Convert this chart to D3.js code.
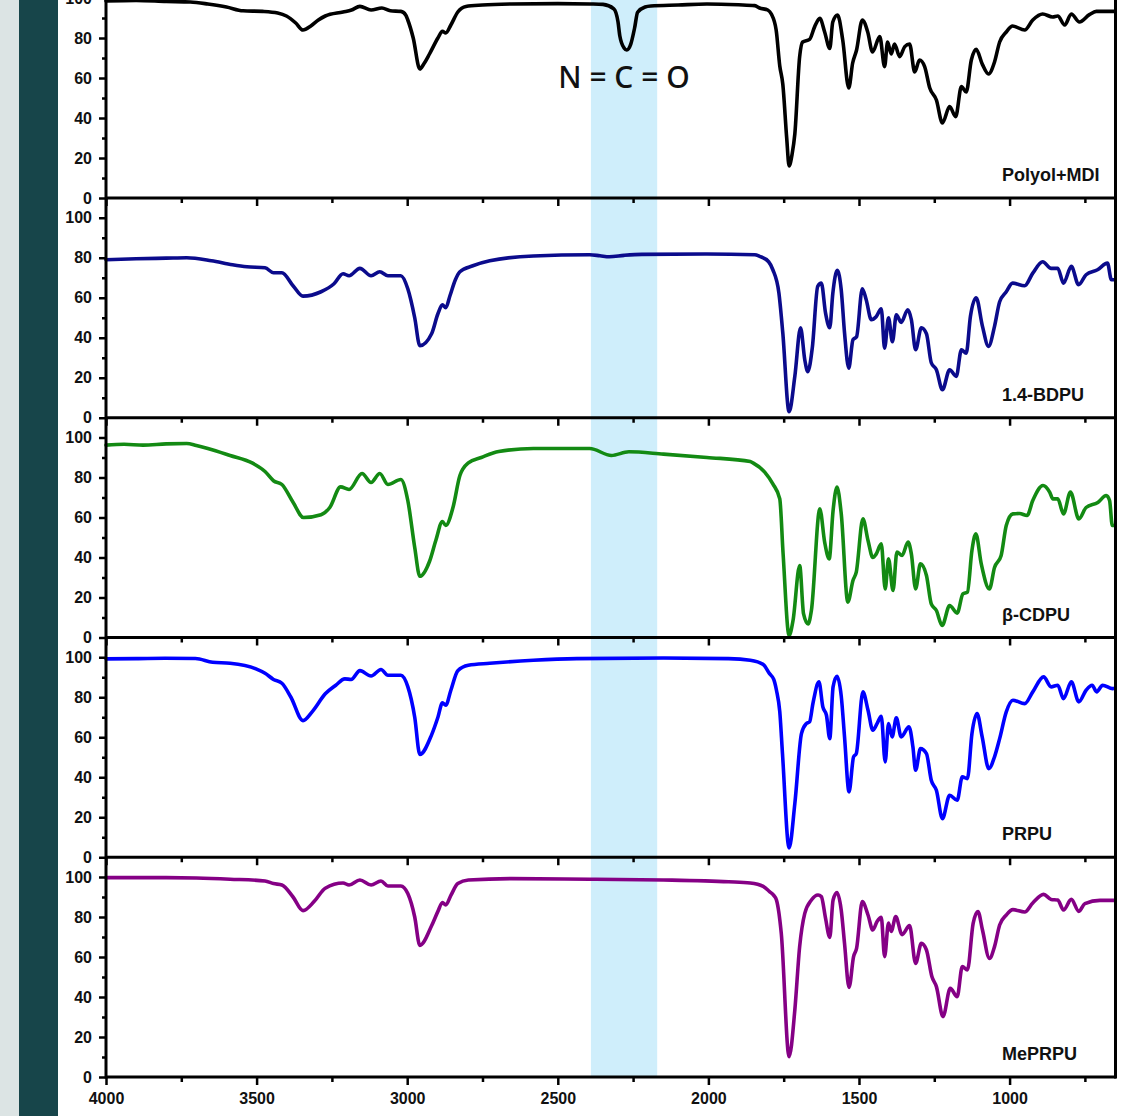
<!DOCTYPE html>
<html><head><meta charset="utf-8">
<script src="https://cdn.jsdelivr.net/npm/d3@7"></script>
<style>html,body{margin:0;padding:0;background:#fff;overflow:hidden}</style>
</head><body><svg id="c" width="1125" height="1116"></svg>
<script>
const seriesNames = ["Polyol+MDI", "1.4-BDPU", "β-CDPU", "PRPU", "MePRPU"];
const seriesColors = ["#000000", "#0b0b8c", "#138a13", "#0000ff", "#850085"];

const polyolMDI = [[4000,98.5],[3900,98.8],[3800,98.3],[3720,98],[3662,97],[3600,95.5],[3545,93.6],[3480,93.3],[3430,92.5],[3401,91],[3370,87.5],[3346,84],[3320,86],[3295,89],[3272,91],[3213,93],[3185,94],[3157,95.8],[3120,94],[3084,95],[3056,93.6],[3021,93.3],[3005,91.5],[2998,89],[2980,80],[2958,64.5],[2945,67],[2926,72],[2898,80],[2883,83.4],[2872,82.5],[2855,86.5],[2832,93],[2805,95.8],[2750,96.5],[2653,97],[2500,97.2],[2394,97],[2350,96.8],[2314,94.6],[2300,88],[2294,81],[2280,75],[2271,74],[2258,76.8],[2245,85],[2235,92.9],[2210,95.5],[2191,96],[2100,96.5],[2005,97],[1900,96.6],[1846,96.2],[1830,95],[1803,94],[1791,92],[1775,84],[1763,66],[1753,57],[1740,30],[1732,16],[1722,22],[1713,32],[1697,70.7],[1687,78],[1664,79.3],[1647,85.7],[1630,89.8],[1614,83],[1597,74.8],[1587,88],[1571,91.5],[1554,79],[1534,55],[1521,67.5],[1508,74],[1489,89],[1471,83],[1455,73],[1431,80.7],[1415,65.7],[1405,78],[1393,72],[1382,77],[1365,70.7],[1348,75.7],[1332,77],[1315,63],[1299,69],[1282,65.7],[1265,55],[1243,49],[1223,37.5],[1199,45.7],[1179,40.7],[1160,55.7],[1144,53],[1127,69],[1111,74.3],[1090,66.7],[1070,62],[1050,68],[1033,78],[1011,83],[990,86],[950,84],[923,89],[890,92],[857,90.5],[840,91],[817,86.5],[795,92],[768,88],[735,91.7],[712,93.3],[650,93.3]];

const bdpu14 = [[4000,79],[3900,79.5],[3800,79.8],[3732,80],[3650,78.5],[3580,76.5],[3532,75.5],[3472,75],[3444,72.5],[3416,72.5],[3379,66],[3346,60.8],[3286,63],[3243,67],[3213,72],[3193,71],[3157,74.7],[3120,71],[3091,73],[3064,71],[3021,71],[2998,64.5],[2975,50],[2958,36],[2919,42],[2898,52],[2883,56.5],[2872,55],[2858,61],[2840,69],[2825,73],[2782,76],[2726,78.5],[2581,80.9],[2394,81.5],[2360,81],[2329,80.5],[2280,81.2],[2221,81.7],[2005,81.9],[1846,81.5],[1830,80.7],[1800,78],[1786,74],[1766,62.5],[1753,42.5],[1732,3],[1713,20.7],[1694,45],[1680,29],[1670,23],[1655,35],[1637,65.7],[1625,67.3],[1611,52.3],[1597,45],[1587,62],[1572,73.7],[1559,64],[1548,42.5],[1534,24.8],[1520,39],[1508,40.5],[1489,64.5],[1476,59],[1459,49],[1443,50.5],[1426,54.5],[1415,34.8],[1402,50],[1389,38],[1376,51.5],[1360,47.7],[1338,54],[1326,49],[1312,34],[1293,45],[1276,42],[1260,27.5],[1243,24],[1223,14],[1199,24],[1177,20.7],[1160,34],[1144,32.3],[1130,50.7],[1111,60],[1090,45.7],[1070,35.7],[1050,45.7],[1033,58],[1011,63],[990,67.3],[950,66],[923,72.3],[890,78],[862,74.7],[840,74.7],[821,67.3],[795,75.7],[771,66.5],[746,71.5],[708,74],[675,77.3],[662,69],[650,69]];

const cdpuBeta = [[4000,96.2],[3940,96.6],[3877,96.2],[3800,96.8],[3732,97],[3700,96],[3662,94.5],[3588,91],[3515,87.3],[3472,83],[3444,78.4],[3416,76.5],[3379,67.6],[3344,60],[3286,61.4],[3257,65],[3221,75.3],[3193,74],[3150,82],[3120,77.5],[3091,82],[3064,76.5],[3021,79],[2998,68.5],[2975,45],[2958,30.6],[2926,38],[2905,48.5],[2883,58],[2872,56],[2848,65],[2825,81],[2797,87.3],[2754,90],[2696,93],[2581,94.5],[2394,94.5],[2322,91],[2264,92.9],[2149,91.7],[2005,90],[1861,88],[1852,87.3],[1813,82.7],[1786,76.8],[1763,69.3],[1752,42],[1732,1],[1719,8.5],[1697,36],[1684,11.8],[1669,6.8],[1658,13.5],[1630,64.3],[1614,47.7],[1599,39.3],[1586,63.5],[1573,75.2],[1559,62],[1537,17.7],[1520,28.5],[1509,32.7],[1487,59.3],[1470,48.5],[1454,40],[1443,41.7],[1426,46.8],[1413,24.3],[1402,39.3],[1387,23.5],[1374,42.7],[1357,41],[1337,47.7],[1326,41.7],[1312,24.3],[1296,36.8],[1276,31],[1260,16.8],[1243,13.5],[1224,6],[1199,16],[1174,12.2],[1155,21.8],[1140,22.7],[1125,43.5],[1112,51.8],[1094,36.8],[1067,24.3],[1050,35],[1028,41],[1011,56],[989,61.8],[967,62],[942,61],[923,68.5],[889,76],[867,72.7],[856,69.3],[840,69.3],[821,61.8],[798,72.7],[770,59.3],[746,65],[707,67.5],[679,71],[668,68.5],[659,56],[650,56]];

const prpu = [[4000,99.2],[3900,99.3],[3804,99.5],[3703,99.4],[3646,97.5],[3588,97],[3502,94.2],[3472,92],[3444,88.9],[3416,87],[3386,80],[3346,68.3],[3315,72.8],[3272,81.7],[3237,86],[3207,89.2],[3186,88.9],[3157,93.3],[3120,90.6],[3087,93.9],[3064,91],[3021,91],[2998,85.3],[2975,70],[2958,51.4],[2919,61.2],[2898,70],[2883,77.2],[2872,76],[2855,83.5],[2832,93.3],[2797,96],[2726,97],[2581,98.5],[2437,99.3],[2149,99.6],[1933,99.3],[1861,98.5],[1818,96.4],[1797,91.8],[1783,88.9],[1774,83.5],[1763,72.8],[1754,51.8],[1732,4.7],[1713,26.8],[1691,61.8],[1675,66.8],[1664,67.7],[1653,76.8],[1633,87.7],[1620,75.2],[1608,71],[1597,59.3],[1586,85.2],[1573,90.5],[1559,80.7],[1548,60.2],[1533,32.7],[1518,50.2],[1509,51.8],[1487,82.7],[1470,73.5],[1454,63.5],[1440,66.8],[1426,70.5],[1413,47.7],[1402,66.8],[1390,60.2],[1376,69.7],[1360,60.2],[1334,65.2],[1321,55.2],[1312,43.5],[1296,54.3],[1276,51.8],[1260,38.5],[1243,33.5],[1223,19.3],[1199,31],[1174,28.5],[1157,40.2],[1140,39.3],[1125,61.8],[1108,71.8],[1091,60.2],[1069,44.3],[1050,50.2],[1033,59.3],[1011,72.7],[989,78.5],[950,76.8],[923,82.7],[887,90.2],[862,85.2],[840,86],[821,79.3],[795,87.7],[770,77.7],[746,83.5],[726,86],[711,82.7],[691,86],[658,84.3],[650,84.5]];

const meprpu = [[4000,99.7],[3800,99.7],[3700,99.5],[3588,98.9],[3472,98],[3444,96.7],[3416,96],[3379,90],[3346,83.2],[3307,88.1],[3272,94.4],[3213,97],[3193,96],[3157,98.5],[3120,96],[3087,98],[3064,95.5],[3021,95.5],[2998,91.7],[2975,80],[2958,65.8],[2919,75.6],[2898,82.8],[2883,87.2],[2872,86],[2855,90.8],[2832,96.7],[2797,98.5],[2653,99.2],[2394,98.9],[2149,98.5],[1933,97.6],[1861,97],[1818,95.3],[1797,92.7],[1783,90.8],[1774,88.5],[1758,71.8],[1732,10.2],[1713,33.5],[1697,65.2],[1680,81.8],[1658,88.5],[1636,91],[1625,90.2],[1611,79.3],[1597,69.8],[1586,88.5],[1573,92.2],[1559,83.5],[1548,66.8],[1533,44.8],[1518,60.2],[1508,64.3],[1489,87.7],[1470,81],[1454,73.5],[1440,77.7],[1426,79.8],[1415,60.2],[1402,77],[1393,72.8],[1378,80.2],[1357,71.2],[1332,75.7],[1312,56.8],[1293,66.8],[1276,63.5],[1258,50.2],[1243,45.2],[1221,30.2],[1197,44.3],[1174,40.2],[1157,55.2],[1140,53.5],[1121,76.8],[1105,82.7],[1090,73.5],[1067,59.3],[1050,65.2],[1033,76],[1011,81],[989,83.7],[950,82.5],[923,87],[887,91.3],[862,88.8],[840,88.5],[821,83.5],[795,88.8],[770,82.8],[750,86.7],[700,88.3],[650,88.3]];

const seriesData = [polyolMDI, bdpu14, cdpuBeta, prpu, meprpu];

const xMajorTicks = [4000, 3500, 3000, 2500, 2000, 1500, 1000];
const xMinorTicks = [3750, 3250, 2750, 2250, 1750, 1250, 750];
const yMajorTicks = [0, 20, 40, 60, 80, 100];
const yMinorTicks = [10, 30, 50, 70, 90];
const ncoBand = [2390, 2170];
const annotationText = "N = C = O";
const xTitle = "Wavenumber (cm⁻¹)";

const svg = d3.select("#c");
svg.append("rect").attr("x",0).attr("y",0).attr("width",1125).attr("height",1116).attr("fill","#fff");
svg.append("rect").attr("x",0).attr("y",0).attr("width",19).attr("height",1116).attr("fill","#dce4e4");
svg.append("rect").attr("x",19).attr("y",0).attr("width",39).attr("height",1116).attr("fill","#17454a");

const x = d3.scaleLinear().domain([4000, 650]).range([106, 1115]);
const panelStep = 219.75;
const firstBottom = 198;
const bottoms = seriesData.map((d, i) => firstBottom + i * panelStep);
const lastBottom = bottoms[bottoms.length - 1];
const topEdge = firstBottom - panelStep;

svg.append("rect")
  .attr("x", x(ncoBand[0])).attr("width", x(ncoBand[1]) - x(ncoBand[0]))
  .attr("y", topEdge).attr("height", lastBottom - topEdge)
  .attr("fill", "#cfeefb");

const font = "'Liberation Sans', Arial, sans-serif";

seriesData.forEach((data, i) => {
  const b = bottoms[i];
  const y = d3.scaleLinear().domain([0, 100]).range([b, b - 200]);
  const line = d3.line().x(d => x(d[0])).y(d => y(d[1])).curve(d3.curveMonotoneX);
  svg.append("path").datum(data).attr("d", line)
    .attr("fill", "none").attr("stroke", seriesColors[i])
    .attr("stroke-width", 3.6).attr("stroke-linejoin", "round").attr("stroke-linecap", "round");

  const gx = svg.append("g").attr("transform", `translate(0,${b})`)
    .call(d3.axisBottom(x).tickValues(xMajorTicks).tickSize(8).tickSizeOuter(0).tickPadding(8)
      .tickFormat(i === seriesData.length - 1 ? d3.format("d") : ""));
  const gxm = svg.append("g").attr("transform", `translate(0,${b})`)
    .call(d3.axisBottom(x).tickValues(xMinorTicks).tickSize(5).tickSizeOuter(0).tickFormat(""));
  const gy = svg.append("g").attr("transform", `translate(106,0)`)
    .call(d3.axisLeft(y).tickValues(yMajorTicks).tickSize(7).tickSizeOuter(0).tickPadding(7).tickFormat(d3.format("d")));
  const gym = svg.append("g").attr("transform", `translate(106,0)`)
    .call(d3.axisLeft(y).tickValues(yMinorTicks).tickSize(4).tickSizeOuter(0).tickFormat(""));
  [gx, gxm, gy, gym].forEach(g => {
    g.select(".domain").remove();
    g.selectAll(".tick line").attr("stroke", "#000").attr("stroke-width", 2.5);
    g.selectAll("text").attr("font-family", font).attr("font-weight", "bold")
      .attr("font-size", 16).attr("fill", "#111");
  });

  svg.append("line").attr("x1", 106).attr("x2", 1116).attr("y1", b).attr("y2", b)
    .attr("stroke", "#000").attr("stroke-width", 3);

  svg.append("text").attr("x", 1002).attr("y", b - 17)
    .attr("font-family", font).attr("font-weight", "bold").attr("font-size", 18)
    .attr("fill", "#111").text(seriesNames[i]);
});

svg.append("line").attr("x1", 106).attr("x2", 106).attr("y1", topEdge).attr("y2", lastBottom + 1.5)
  .attr("stroke", "#000").attr("stroke-width", 3);
svg.append("line").attr("x1", 1115.5).attr("x2", 1115.5).attr("y1", topEdge).attr("y2", lastBottom + 1.5)
  .attr("stroke", "#000").attr("stroke-width", 3);

svg.append("text").attr("x", 624).attr("y", 88).attr("text-anchor", "middle")
  .attr("font-family", "'Noto Sans', 'Open Sans', sans-serif").attr("font-weight", 500)
  .attr("font-size", 30).attr("fill", "#111").text(annotationText);

svg.append("text").attr("x", 610).attr("y", 1129).attr("text-anchor", "middle")
  .attr("font-family", font).attr("font-weight", "bold").attr("font-size", 18)
  .attr("fill", "#111").text(xTitle);
</script></body></html>
